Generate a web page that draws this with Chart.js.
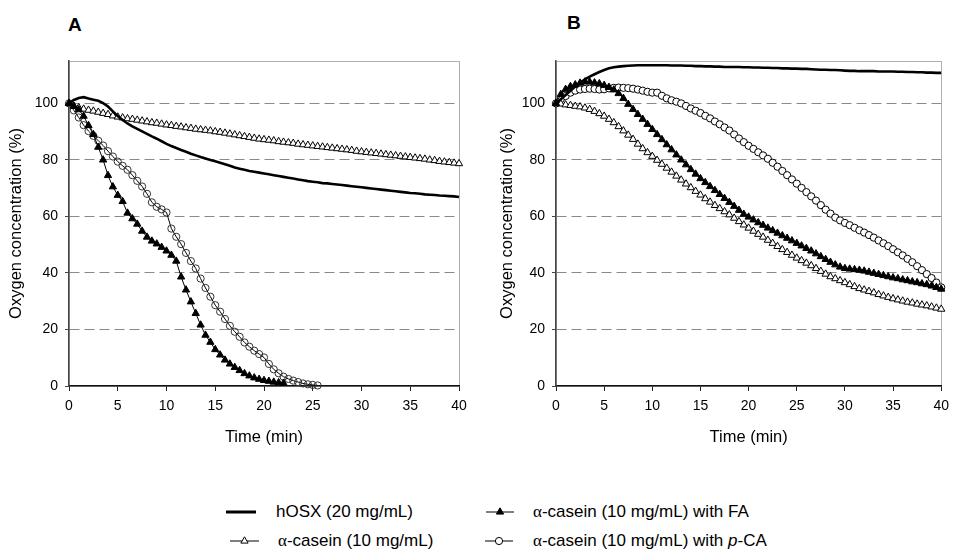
<!DOCTYPE html>
<html lang="en">
<head>
<meta charset="UTF-8">
<title>Oxygen consumption</title>
<script src="https://cdn.jsdelivr.net/npm/chart.js"></script>
<style>
    body {
        margin: 0;
        background: #fff;
        font-family: 'Liberation Sans', Arial, sans-serif;
    }
    #page {
        position: relative;
        width: 956px;
        height: 551px;
        overflow: hidden;
    }
    #page canvas, .panel-label, .key-text {
        position: absolute;
    }
    .panel-label {
        font-weight: bold;
        font-size: 19px;
        line-height: 19px;
    }
    .key-text {
        font-size: 17px;
        line-height: 20px;
        white-space: nowrap;
        color: #000;
    }
    .greek {
        font-family: 'Liberation Serif', 'DejaVu Serif', serif;
    }
</style>
</head>
<body>
<div id="page">
    <div class="panel-label" style="left:68px; top:15px;">A</div>
    <div class="panel-label" style="left:567px; top:13px;">B</div>

    <canvas id="chartA" width="478" height="450" style="left:0; top:0;"></canvas>
    <canvas id="chartB" width="478" height="450" style="left:478px; top:0;"></canvas>

    <!-- legend -->
    <canvas id="keyHosx" width="30" height="12" style="left:226px; top:506px;"></canvas>
    <div class="key-text" style="left:276px; top:502px;">hOSX (20 mg/mL)</div>
    <canvas id="keyFa" width="28" height="12" style="left:486px; top:506px;"></canvas>
    <div class="key-text" style="left:533px; top:502px;"><span class="greek">α</span>-casein (10 mg/mL) with FA</div>
    <canvas id="keyCasein" width="29" height="12" style="left:230px; top:535px;"></canvas>
    <div class="key-text" style="left:278px; top:531px;"><span class="greek">α</span>-casein (10 mg/mL)</div>
    <canvas id="keyPca" width="28" height="12" style="left:485px; top:535px;"></canvas>
    <div class="key-text" style="left:533px; top:531px;"><span class="greek">α</span>-casein (10 mg/mL) with <i>p</i>-CA</div>
</div>

<script>
    // sampling times (min), one reading every 30 s
    const minutes = [
        0, 0.5, 1, 1.5, 2, 2.5, 3, 3.5, 4, 4.5,
        5, 5.5, 6, 6.5, 7, 7.5, 8, 8.5, 9, 9.5,
        10, 10.5, 11, 11.5, 12, 12.5, 13, 13.5, 14, 14.5,
        15, 15.5, 16, 16.5, 17, 17.5, 18, 18.5, 19, 19.5,
        20, 20.5, 21, 21.5, 22, 22.5, 23, 23.5, 24, 24.5,
        25, 25.5, 26, 26.5, 27, 27.5, 28, 28.5, 29, 29.5,
        30, 30.5, 31, 31.5, 32, 32.5, 33, 33.5, 34, 34.5,
        35, 35.5, 36, 36.5, 37, 37.5, 38, 38.5, 39, 39.5,
        40
    ];
    const timeTicks = [0, 5, 10, 15, 20, 25, 30, 35, 40];
    const oxygenTicks = [0, 20, 40, 60, 80, 100];

    // ---- panel A: oxygen (%) ----
    const hosxA = [
        100, 101.2, 101.9, 102.2, 101.7, 101.3, 100.9, 100.1, 98.9, 97.2,
        95.5, 94.1, 92.9, 91.9, 91.0, 90.1, 89.2, 88.3, 87.5, 86.6,
        85.7, 84.9, 84.2, 83.5, 82.9, 82.2, 81.6, 81.0, 80.5, 80.0,
        79.5, 79.0, 78.5, 77.9, 77.3, 76.9, 76.5, 76.1, 75.8, 75.5,
        75.2, 74.9, 74.6, 74.3, 74.0, 73.7, 73.4, 73.1, 72.8, 72.5,
        72.3, 72.1, 71.8, 71.7, 71.5, 71.3, 71.1, 70.9, 70.7, 70.5,
        70.3, 70.1, 69.9, 69.7, 69.5, 69.3, 69.1, 68.9, 68.7, 68.5,
        68.3, 68.2, 68.0, 67.8, 67.7, 67.6, 67.4, 67.3, 67.2, 67.1,
        66.9
    ];
    const caseinA = [
        100, 99.0, 98.5, 98.0, 97.6, 97.3, 96.9, 96.5, 96.1, 95.6,
        95.2, 94.9, 94.6, 94.4, 94.1, 93.8, 93.5, 93.2, 93.0, 92.7,
        92.4, 92.2, 91.9, 91.7, 91.4, 91.2, 90.9, 90.7, 90.5, 90.3,
        90.0, 89.8, 89.5, 89.2, 88.9, 88.6, 88.3, 88.0, 87.7, 87.4,
        87.2, 87.0, 86.8, 86.5, 86.3, 86.1, 85.9, 85.6, 85.4, 85.2,
        85.0, 84.8, 84.6, 84.4, 84.2, 84.0, 83.8, 83.6, 83.4, 83.1,
        82.9, 82.7, 82.5, 82.3, 82.1, 81.9, 81.7, 81.5, 81.3, 81.1,
        80.9, 80.7, 80.5, 80.3, 80.0, 79.8, 79.5, 79.3, 79.1, 78.9,
        78.7
    ];
    const faA = [
        100, 99.0, 97.8, 95.5, 92.2, 89.0, 84.5, 80.0, 74.5, 70.5,
        67.5, 65.3, 61.2, 59.2, 57.3, 54.8, 52.7, 51.3, 50.3, 49.1,
        47.8, 46.3, 44.2, 38.6, 34.0, 29.8, 25.7, 21.6, 18.0, 15.5,
        12.9, 11.0, 9.2, 7.8, 6.6, 5.5, 4.4, 3.6, 2.9, 2.4,
        2.0, 1.7, 1.4, 1.2, 1.0
    ];
    const pcaA = [
        100, 97.5, 95.0, 92.3, 90.2, 88.5, 86.8, 85.1, 83.1, 81.2,
        79.4, 77.9, 76.5, 74.6, 72.6, 70.6, 68.0, 65.0, 63.4, 62.5,
        61.4, 55.7, 52.8, 50.2, 47.1, 44.2, 41.6, 38.0, 34.7, 31.6,
        28.6, 26.3, 23.7, 21.3, 19.2, 17.4, 15.4, 13.9, 12.5, 11.3,
        10.1, 7.8, 5.9, 4.5, 3.3, 2.5, 1.9, 1.4, 0.9, 0.6,
        0.4, 0.2
    ];

    // ---- panel B: oxygen (%) ----
    const hosxB = [
        100, 101.5, 103.0, 104.5, 106.0, 107.3, 108.5, 109.5, 110.3, 111.1,
        111.8, 112.4, 112.8, 113.0, 113.2, 113.3, 113.4, 113.5, 113.5, 113.5,
        113.5, 113.5, 113.5, 113.5, 113.4, 113.4, 113.4, 113.3, 113.3, 113.2,
        113.2, 113.1, 113.1, 113.0, 113.0, 112.9, 112.9, 112.9, 112.9, 112.8,
        112.8, 112.7, 112.7, 112.6, 112.6, 112.5, 112.5, 112.4, 112.4, 112.3,
        112.3, 112.2, 112.2, 112.1, 112.0, 111.9, 111.9, 111.8, 111.8, 111.7,
        111.6, 111.5, 111.5, 111.4, 111.4, 111.4, 111.4, 111.3, 111.3, 111.3,
        111.3, 111.2, 111.2, 111.1, 111.1, 111.0, 111.0, 110.9, 110.9, 110.8,
        110.8
    ];
    const caseinB = [
        100, 99.8, 99.5, 99.3, 99.0, 98.8, 98.4, 97.9, 97.2, 96.4,
        95.5, 94.4, 93.2, 91.8, 90.3, 88.8, 87.3, 85.6, 84.0, 82.6,
        81.3, 79.9, 78.5, 77.1, 75.7, 74.3, 72.9, 71.5, 70.2, 68.9,
        67.6, 66.3, 65.1, 63.9, 62.8, 61.7, 60.6, 59.4, 58.2, 57.0,
        55.9, 54.8, 53.7, 52.7, 51.6, 50.5, 49.4, 48.3, 47.3, 46.3,
        45.3, 44.4, 43.5, 42.6, 41.6, 40.6, 39.6, 38.7, 38.0, 37.3,
        36.6, 35.9, 35.2, 34.5, 34.0, 33.5, 33.0, 32.4, 31.9, 31.4,
        30.9, 30.5, 30.1, 29.7, 29.4, 29.0, 28.7, 28.4, 28.0, 27.6,
        27.2
    ];
    const faB = [
        100, 103.2, 105.0, 106.0, 106.6, 107.2, 107.6, 107.6, 107.3, 107.0,
        106.4, 105.7, 104.8, 103.5, 101.8, 99.7, 97.9, 96.1, 94.4, 92.6,
        90.8, 89.0, 87.2, 85.4, 83.6, 81.8, 80.0, 78.3, 76.6, 75.0,
        73.4, 72.0, 70.6, 69.2, 67.8, 66.4, 65.0, 63.6, 62.2, 60.8,
        59.8, 58.8, 57.8, 56.9, 55.9, 55.0, 54.1, 53.2, 52.3, 51.4,
        50.5, 49.6, 48.7, 47.8, 46.8, 45.8, 44.8, 43.8, 42.9, 42.1,
        41.6, 41.4, 41.2, 41.0, 40.7, 40.3, 39.9, 39.5, 39.1, 38.7,
        38.3, 38.0, 37.6, 37.3, 36.9, 36.6, 36.2, 35.9, 35.4, 34.9,
        34.3
    ];
    const pcaB = [
        100, 101.5, 102.6, 103.8, 104.5, 104.9, 105.1, 105.2, 105.1, 104.9,
        105.0, 105.3, 105.5, 105.6, 105.5, 105.4, 105.2, 104.9, 104.5, 104.1,
        103.8, 103.8, 102.7, 101.8, 101.1, 100.6, 100.0, 99.1, 98.2, 97.4,
        96.6, 95.6, 94.7, 93.6, 92.6, 91.5, 90.4, 89.0, 87.6, 86.3,
        85.0, 83.9, 82.7, 81.6, 80.4, 79.0, 77.6, 76.1, 74.6, 73.1,
        71.6, 70.1, 68.6, 67.1, 65.6, 64.0, 62.4, 61.0, 59.6, 58.6,
        57.7, 56.9, 56.0, 55.1, 54.3, 53.4, 52.5, 51.5, 50.5, 49.5,
        48.4, 47.3, 46.2, 45.0, 43.8, 42.4, 41.0, 39.6, 38.2, 36.6,
        34.9
    ];

    const seriesNames = [
        'hOSX (20 mg/mL)',
        'α-casein (10 mg/mL) with FA',
        'α-casein (10 mg/mL)',
        'α-casein (10 mg/mL) with p-CA'
    ];

    Chart.defaults.font.family = "'Liberation Sans', Arial, sans-serif";
    Chart.defaults.color = '#000';

    function toPoints(values) {
        return values.map((v, i) => ({ x: minutes[i], y: v }));
    }

    // light grey frame round the plot area (axes are drawn over left and bottom)
    const plotFrame = {
        id: 'plotFrame',
        beforeDraw(chart) {
            const { ctx, chartArea: a } = chart;
            ctx.save();
            ctx.strokeStyle = '#b0b0b0';
            ctx.lineWidth = 1;
            ctx.strokeRect(Math.round(a.left) + 0.5, Math.round(a.top) + 0.5,
                Math.round(a.right - a.left), Math.round(a.bottom - a.top));
            ctx.restore();
        }
    };

    function makePanel(id, hosx, fa, casein, pca, opt) {
        new Chart(document.getElementById(id), {
            type: 'line',
            data: {
                datasets: [
                    {
                        label: seriesNames[0],
                        data: toPoints(hosx),
                        borderColor: '#000',
                        borderWidth: 2.6,
                        pointRadius: 0,
                        clip: false
                    },
                    {
                        label: seriesNames[1],
                        data: toPoints(fa),
                        borderColor: '#000',
                        borderWidth: 1,
                        pointStyle: 'triangle',
                        pointRadius: 4.2,
                        pointBackgroundColor: '#000',
                        pointBorderColor: '#000',
                        pointBorderWidth: 1,
                        clip: false
                    },
                    {
                        label: seriesNames[2],
                        data: toPoints(casein),
                        borderColor: '#000',
                        borderWidth: 1,
                        pointStyle: 'triangle',
                        pointRadius: 4.2,
                        pointBackgroundColor: '#fff',
                        pointBorderColor: '#000',
                        pointBorderWidth: 1,
                        clip: false
                    },
                    {
                        label: seriesNames[3],
                        data: toPoints(pca),
                        borderColor: '#000',
                        borderWidth: 1,
                        pointStyle: 'circle',
                        pointRadius: 3.6,
                        pointBackgroundColor: opt.circleFill,
                        pointBorderColor: opt.circleEdge,
                        pointBorderWidth: 1,
                        clip: false
                    }
                ]
            },
            options: {
                responsive: false,
                animation: false,
                events: [],
                layout: { padding: { top: 61, right: opt.padRight, left: 0, bottom: 0 } },
                plugins: {
                    legend: { display: false },
                    tooltip: { enabled: false }
                },
                scales: {
                    x: {
                        type: 'linear',
                        min: 0,
                        max: 40,
                        afterFit: s => { s.height = 64; },
                        afterBuildTicks: s => { s.ticks = timeTicks.map(v => ({ value: v })); },
                        ticks: { color: '#000', font: { size: 14 }, padding: 7, maxRotation: 0 },
                        grid: { drawOnChartArea: false, tickLength: 5, color: '#222', lineWidth: 1 },
                        border: { color: '#111', width: 1.5 },
                        title: {
                            display: true,
                            text: 'Time (min)',
                            color: '#000',
                            font: { size: 16.5 },
                            padding: { top: 0, bottom: 3 }
                        }
                    },
                    y: {
                        min: 0,
                        max: 115,
                        afterFit: s => { s.width = opt.yWidth; },
                        afterBuildTicks: s => { s.ticks = oxygenTicks.map(v => ({ value: v })); },
                        ticks: { color: '#000', font: { size: 14 }, padding: 7 },
                        grid: {
                            color: c => (c.tick && c.tick.value === 0) ? 'rgba(0,0,0,0)' : '#8a8a8a',
                            lineWidth: 1,
                            tickLength: 4,
                            tickColor: '#444',
                            tickBorderDash: []
                        },
                        border: { color: '#444', width: 1.5, dash: [10, 5] },
                        title: {
                            display: true,
                            text: 'Oxygen concentration (%)',
                            color: '#000',
                            font: { size: 16.5 },
                            padding: { top: opt.titlePad, bottom: 0 }
                        }
                    }
                }
            },
            plugins: [plotFrame]
        });
    }

    makePanel('chartA', hosxA, faA, caseinA, pcaA,
        { yWidth: 69, padRight: 19, titlePad: 7, circleFill: 'rgba(255,255,255,0)', circleEdge: '#333' });
    makePanel('chartB', hosxB, faB, caseinB, pcaB,
        { yWidth: 78, padRight: 10, titlePad: 20, circleFill: '#fff', circleEdge: '#000' });

    // legend keys: short line sample with the series marker in the middle
    function drawKey(id, lineWidth, marker) {
        const c = document.getElementById(id);
        const g = c.getContext('2d');
        const mx = c.width / 2, my = c.height / 2;
        g.strokeStyle = '#000';
        g.lineWidth = lineWidth;
        g.beginPath();
        g.moveTo(0, my);
        g.lineTo(c.width, my);
        g.stroke();
        if (!marker) return;
        g.lineWidth = 1;
        g.fillStyle = marker.fill;
        g.beginPath();
        if (marker.shape === 'triangle') {
            const r = 4.2;
            g.moveTo(mx, my - r);
            g.lineTo(mx + r * 0.866, my + r * 0.5);
            g.lineTo(mx - r * 0.866, my + r * 0.5);
            g.closePath();
        } else {
            g.arc(mx, my, 3.6, 0, Math.PI * 2);
        }
        g.fill();
        g.stroke();
    }
    drawKey('keyHosx', 3, null);
    drawKey('keyFa', 1, { shape: 'triangle', fill: '#000' });
    drawKey('keyCasein', 1, { shape: 'triangle', fill: '#fff' });
    drawKey('keyPca', 1, { shape: 'circle', fill: '#fff' });
</script>
</body>
</html>
